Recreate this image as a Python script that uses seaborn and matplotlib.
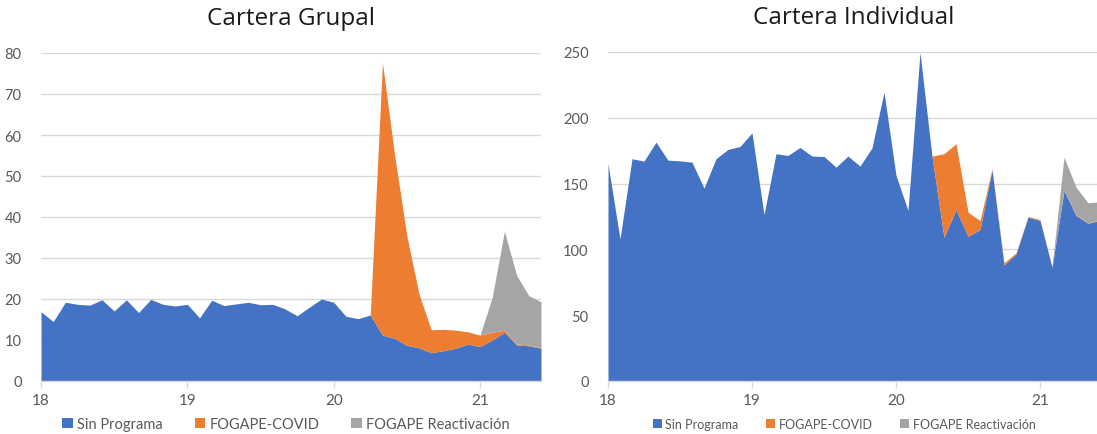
import numpy as np
import matplotlib
matplotlib.use("Agg")
import matplotlib.pyplot as plt
import seaborn as sns
from matplotlib.patches import Patch

# Monthly observations, Jan 2018 .. Jun 2021 (42 months)
months = np.arange(42)
tick_pos = [0, 12, 24, 36]
tick_labels = ["18", "19", "20", "21"]
series_names = ["Sin Programa", "FOGAPE-COVID", "FOGAPE Reactivación"]

grupal_sin = [16.9, 14.5, 19.2, 18.7, 18.5, 19.8, 17.1, 19.8, 16.7, 19.9, 18.7, 18.3,
              18.7, 15.4, 19.7, 18.4, 18.8, 19.2, 18.6, 18.7, 17.6, 15.9, 18.0, 20.0,
              19.2, 15.8, 15.2, 16.1, 11.2, 10.4, 8.7, 8.1, 6.9, 7.4, 8.0, 9.0,
              8.4, 10.0, 11.9, 8.8, 8.6, 8.0]
grupal_covid = [0] * 28 + [66.4, 44.6, 26.7, 13.1, 5.6, 5.2, 4.4, 3.0,
                           2.8, 1.9, 0.5, 0.2, 0.2, 0.1]
grupal_react = [0] * 37 + [8.5, 24.1, 16.8, 12.0, 11.2]

indiv_sin = [165.1, 108.0, 168.9, 167.1, 181.5, 167.8, 167.3, 166.3, 146.6, 168.9, 176.0, 178.2,
             188.6, 126.5, 172.7, 171.4, 177.5, 170.9, 170.6, 162.5, 170.9, 163.3, 177.2, 219.6,
             156.2, 129.6, 249.5, 170.9, 109.3, 130.1, 110.0, 115.1, 160.5, 88.2, 96.6, 124.5,
             122.0, 86.5, 144.8, 125.8, 119.9, 122.0]
indiv_covid = [0] * 28 + [63.4, 50.2, 18.3, 6.8, 0.8, 1.6, 0.8, 0.5,
                          0.7, 0.0, 0.0, 0.7, 0.3, 0.3]
indiv_react = [0] * 38 + [25.3, 20.8, 15.2, 13.9]

colors = ["#4472C4", "#ED7D31", "#A5A5A5"]
text_grey = "#595959"

sns.set_theme(style="white")
plt.rcParams["font.family"] = ["Lato", "DejaVu Sans"]

fig = plt.figure(figsize=(10.97, 4.35), dpi=100)
W, H = 1097, 435


def panel(rect, sin, covid, react, ymax, ystep, title, legend_fs, legend_x, legend_y, colsp):
    ax = fig.add_axes(rect)
    ax.stackplot(months, sin, covid, react, colors=colors, linewidth=0)
    ax.set_xlim(0, 41)
    ax.set_ylim(0, ymax)
    ax.set_yticks(np.arange(0, ymax + 1, ystep))
    ax.yaxis.grid(True, color="#D9D9D9", linewidth=1)
    ax.set_axisbelow(True)
    for s in ["top", "right", "left"]:
        ax.spines[s].set_visible(False)
    ax.spines["bottom"].set_color("#D9D9D9")
    ax.spines["bottom"].set_linewidth(1)
    ax.set_xticks(tick_pos)
    ax.set_xticklabels(tick_labels)
    ax.tick_params(axis="x", bottom=True, length=5, width=1, color="#D9D9D9",
                   labelsize=11, labelcolor=text_grey, pad=4)
    ax.tick_params(axis="y", left=False, labelsize=10.5, labelcolor=text_grey, pad=8)
    ax.set_title(title, fontsize=17.5, color="#1a1a1a", pad=21,
                 family=["Open Sans", "DejaVu Sans"])
    handles = [Patch(facecolor=c, edgecolor="none") for c in colors]
    ax.legend(handles, series_names, loc="center",
              bbox_to_anchor=(legend_x, legend_y), ncol=3, frameon=False,
              fontsize=legend_fs, handlelength=0.7, handleheight=0.7,
              handletextpad=0.3, columnspacing=colsp, labelcolor=text_grey)
    return ax


panel([41 / W, (H - 382) / H, 500 / W, 328 / H], grupal_sin, grupal_covid, grupal_react,
      80, 10, "Cartera Grupal", 10.5, 0.49, -0.131, 2.2)
panel([608 / W, (H - 382) / H, 492 / W, 329 / H], indiv_sin, indiv_covid, indiv_react,
      250, 50, "Cartera Individual", 9.0, 0.48, -0.131, 2.2)

fig.savefig("out.png", dpi=100)
